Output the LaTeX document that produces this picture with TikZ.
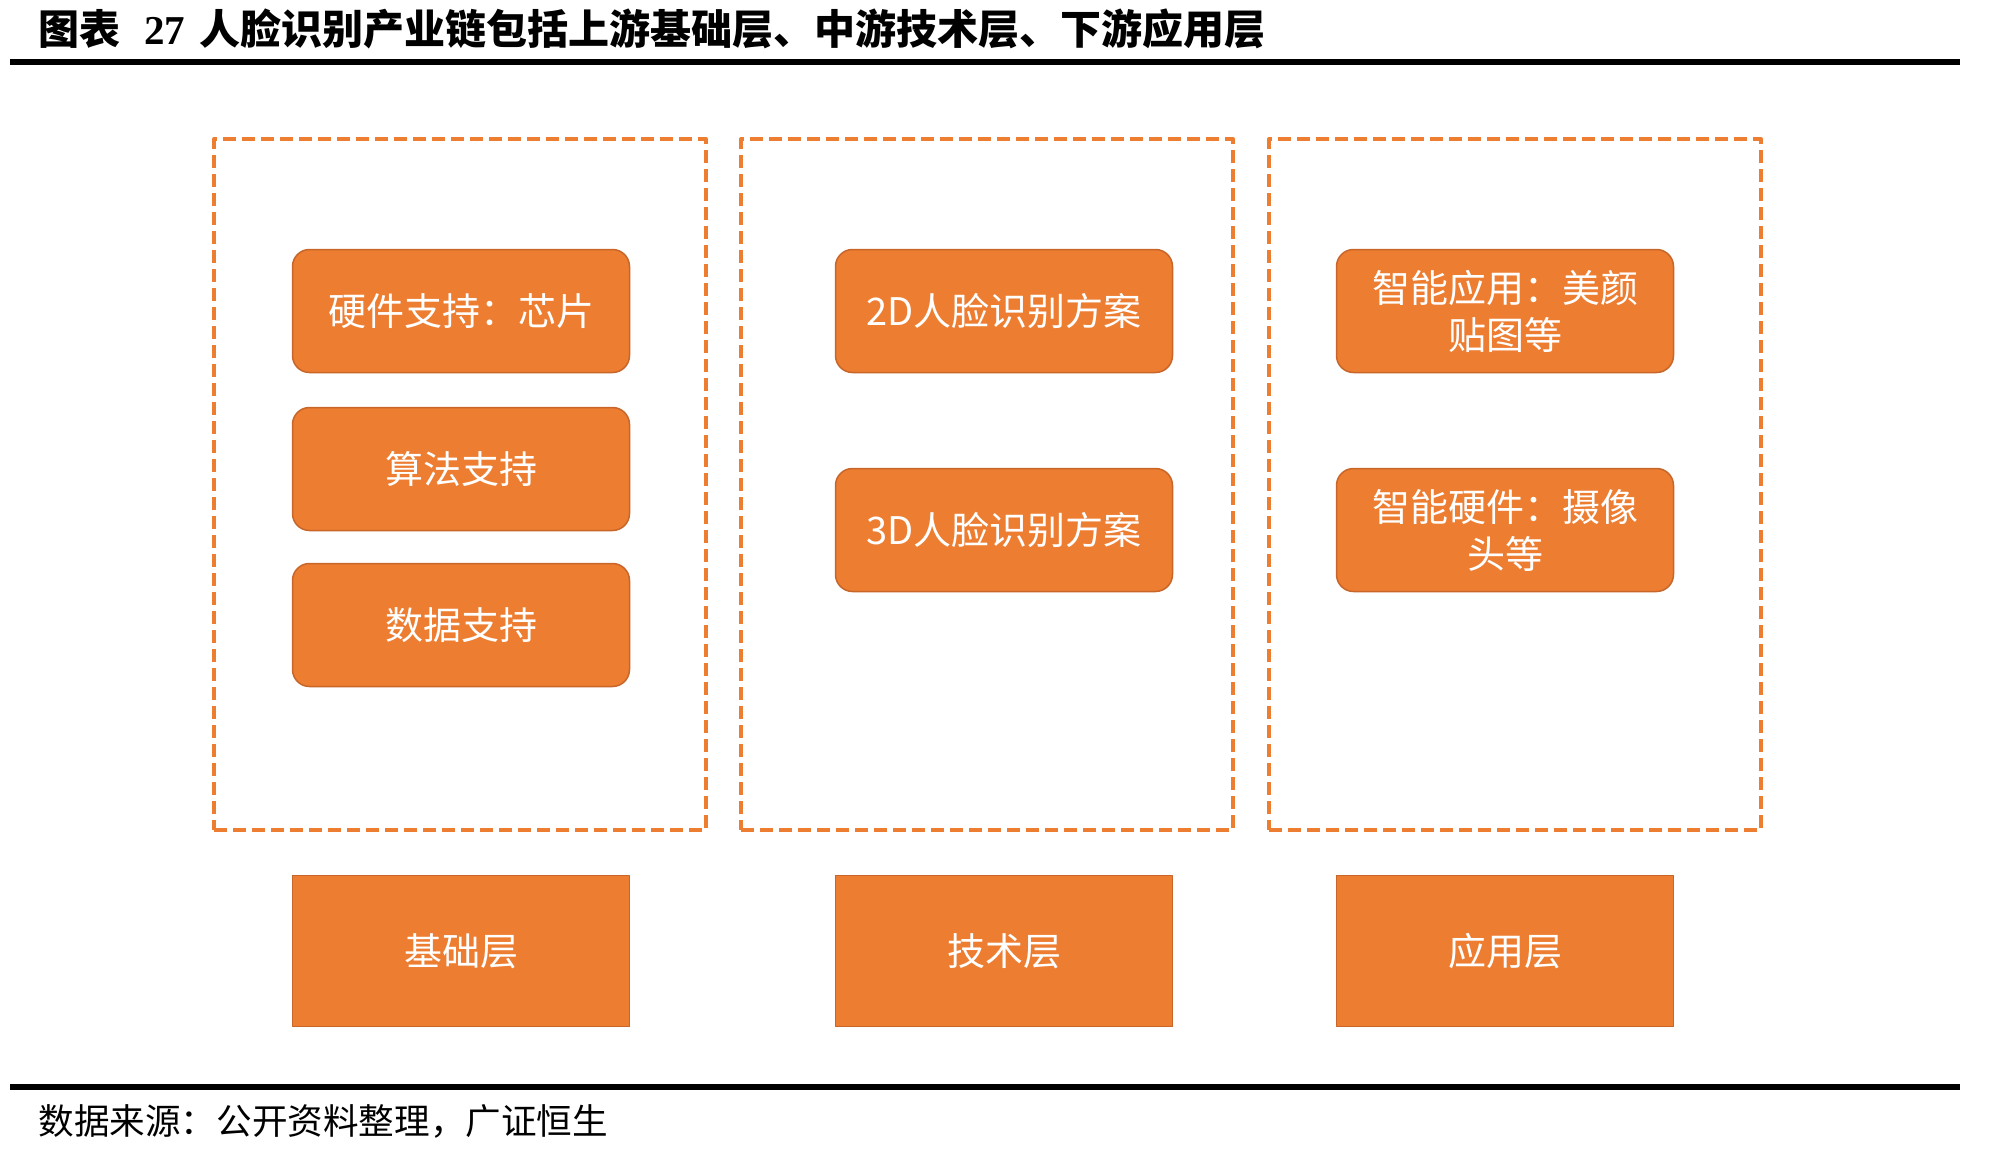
\documentclass[tikz,border=0pt]{standalone}
\usepackage{fontspec}
\setmainfont{Liberation Serif}
\newfontfamily\cjk{Noto Sans CJK SC}
\definecolor{boxorange}{HTML}{ED7D31}
\definecolor{edgeorange}{HTML}{C8662A}
\begin{document}
\begin{tikzpicture}[x=0.5pt,y=-0.5pt,line join=round,font=\cjk\fontsize{19pt}{23.5pt}\selectfont,
	layer/.style={draw=boxorange,line width=2pt,dash pattern=on 6.5pt off 3pt,minimum width=246pt,minimum height=345.5pt,inner sep=0pt},
	item/.style={draw=edgeorange,fill=boxorange,line width=0.75pt,rounded corners=8.5pt,minimum width=168.5pt,minimum height=61.5pt,text=white,align=center,inner sep=0pt},
	base/.style={item,rounded corners=0pt,minimum height=75.5pt}]
	\useasboundingbox (0,0) rectangle (1992,1157);
	\path (10,62) coordinate (TL) ++(1950,0) coordinate (TR)
	(10,1087) coordinate (BL) ++(1950,0) coordinate (BR);
	\draw[line width=3pt] (TL)--(TR) (BL)--(BR);
	\node[anchor=west,inner sep=0pt,font=\cjk\bfseries\fontsize{20.5pt}{24pt}\selectfont] (title) at (38,29) {图表\hspace{12pt}{\rmfamily\bfseries 27}\hspace{7pt}人脸识别产业链包括上游基础层、中游技术层、下游应用层};
	\node[anchor=west,inner sep=0pt,font=\cjk\fontsize{17.8pt}{21pt}\selectfont] (source) at (38,1121) {数据来源：公开资料整理，广证恒生};
	% dashed frames
	\foreach \n/\x in {L1/460,L2/987,L3/1515}{\node[layer] (\n) at (\x,484.5) {};}
	\node[item] (hw) at (461,311) {硬件支持：芯片};
	\node[item] (algo) at (461,469) {算法支持};
	\node[item] (data) at (461,625) {数据支持};
	\node[item] (t2d) at (1004,311) {2D人脸识别方案};
	\node[item] (t3d) at (1004,530) {3D人脸识别方案};
	\node[item] (app) at (1505,311) {智能应用：美颜\\贴图等};
	\node[item] (dev) at (1505,530) {智能硬件：摄像\\头等};
	\foreach \n/\x/\t in {B1/461/基础层,B2/1004/技术层,B3/1505/应用层}{\node[base] (\n) at (\x,951) {\t};}
\end{tikzpicture}
\end{document}
